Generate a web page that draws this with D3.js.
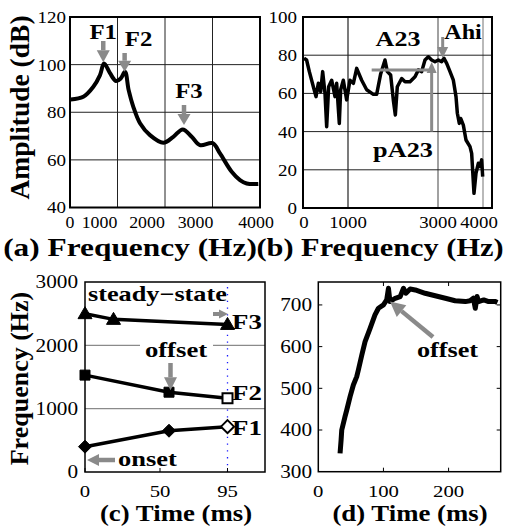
<!DOCTYPE html>
<html><head><meta charset="utf-8">
<script src="https://cdn.jsdelivr.net/npm/d3@7"></script>
<style>html,body{margin:0;padding:0;background:#fff;}svg{display:block;}</style>
</head><body>
<svg id="c" width="505" height="529"></svg>
<script>
// ---------- data ----------
const aFreq = [15,280,491,632,716,842,968,1067,1158,1235,1333,1474,1684,1965,2175,2372,2562,2737,3004,3158,3404,3579,3720,3964];
const aAmp  = [85.4,86.5,90.7,95.6,100.5,96.4,93.1,94.2,97,89.3,82.3,75.4,70.4,67.2,69.7,72.8,69.7,66.2,67,62.7,55,51.5,50.1,49.9];
const aXTicks = [0,1000,2000,3000,4000];
const aYTicks = [40,60,80,100,120];

const bFreq = [22,80,141,230,289,341,393,437,489,526,570,637,711,748,807,837,896,970,1044,1119,1193,1304,1415,1563,1637,1726,1822,1874,1948,2007,2052,2096,2193,2267,2378,2489,2563,2637,2711,2785,2859,2933,3007,3081,3133,3193,3267,3341,3400,3430,3474,3504,3563,3622,3711,3748,3800,3844,3896,3933,3970,3993];
const bAmp  = [78.4,77.5,71.4,63.5,58.3,65.3,60.9,71.4,60,42.6,63.5,66.9,58.3,65.3,44.3,61.9,66.9,56.6,66.9,65.3,73.1,66.9,61.9,59.5,59.5,70.2,77.5,71.4,69.6,56.6,48.7,63.5,67.8,66.1,66.1,68.7,72.3,71.4,77.5,79.2,77.5,76.6,77.5,76.6,78.4,75.7,71.4,66.9,58.3,49.6,44.3,46.9,43.4,35.6,32.1,28.6,7.7,18.2,23.4,21.7,25.2,16.4];
const bXTicks = [0,1000,3000,4000];
const bYTicks = [0,20,40,60,80,100];

const cF3Time = [0,19,95],  cF3 = [2500,2410,2330];
const cF2Time = [0,56,95],  cF2 = [1530,1260,1165];
const cF1Time = [0,56,95],  cF1 = [400,652,716];
const cXTicks = [0,50,95];
const cYTicks = [0,1000,2000,3000];

const dTime = [33.4,35,36,41,43.7,48.8,53.8,59,61.5,66.8,71.8,79.5,87,92.3,100,105,107.7,110,118,125.7,130.8,134.5,141,148.8,164,179.5,195,210,225.7,233,238,241,243.7,246,254,261.5,272,275];
const dFreq = [344,376,400,432,448,480,508,528,544,580,612,644,676,692,700,712,740,708,716,720,740,728,738,736,728,722,716,710,708,710,716,692,720,708,712,708,708,706];
const dXTicks = [0,100,200];
const dYTicks = [300,400,500,600,700];

// ---------- helpers ----------
const svg = d3.select('#c');
const FONT = '"Liberation Serif","Times New Roman",serif';
const GRAY = '#8a8a8a';
function txt(x, y, s, o) {
  o = o || {};
  const sx = o.sx || 1.22;
  let tr = `translate(${x},${y})`;
  if (o.rot) tr += ` rotate(-90) scale(1,${sx})`; else tr += ` scale(${sx},1)`;
  return svg.append('text').attr('transform', tr)
    .attr('text-anchor', o.anchor || 'start')
    .attr('dy', o.dy || 0)
    .style('font-family', FONT).style('font-size', (o.size || 16) + 'px')
    .style('font-weight', o.bold ? 'bold' : 'normal').attr('fill', o.fill || '#000')
    .text(s);
}
function arrow(x1, y1, x2, y2, hl, hw, sw) {
  const ang = Math.atan2(y2 - y1, x2 - x1);
  const bx = x2 - hl * Math.cos(ang), by = y2 - hl * Math.sin(ang);
  svg.append('line').attr('x1', x1).attr('y1', y1).attr('x2', bx).attr('y2', by)
    .attr('stroke', GRAY).attr('stroke-width', sw || 4);
  const px = -Math.sin(ang) * hw / 2, py = Math.cos(ang) * hw / 2;
  svg.append('path').attr('d', `M${x2},${y2}L${bx + px},${by + py}L${bx - px},${by - py}Z`).attr('fill', GRAY);
}
function zip(a, b) { return a.map((v, i) => [v, b[i]]); }

// ---------- panel (a) ----------
{
  const x = d3.scaleLinear().domain([0, 4000]).range([70, 260]);
  const y = d3.scaleLinear().domain([40, 120]).range([207.5, 17]);
  const g = svg.append('g');
  aXTicks.slice(1, -1).forEach(v => g.append('line').attr('x1', x(v)).attr('x2', x(v)).attr('y1', y(40)).attr('y2', y(120)).attr('stroke', '#222').attr('stroke-width', 1));
  aYTicks.slice(1, -1).forEach(v => g.append('line').attr('x1', x(0)).attr('x2', x(4000)).attr('y1', y(v)).attr('y2', y(v)).attr('stroke', '#222').attr('stroke-width', 1));
  g.append('rect').attr('x', x(0)).attr('y', y(120)).attr('width', x(4000) - x(0)).attr('height', y(40) - y(120)).attr('fill', 'none').attr('stroke', '#000').attr('stroke-width', 2);
  g.append('path').datum(zip(aFreq, aAmp)).attr('d', d3.line().x(d => x(d[0])).y(d => y(d[1])).curve(d3.curveCatmullRom))
    .attr('fill', 'none').attr('stroke', '#000').attr('stroke-width', 4).attr('stroke-linejoin', 'round');
  const lblDx = [0, -18, -18, -17, -4];
  aXTicks.forEach((v, i) => txt(x(v) + lblDx[i], 228, v, { anchor: 'middle', size: 16.5, sx: 1.08 }));
  aYTicks.forEach(v => txt(66, y(v), v, { anchor: 'end', size: 17, dy: '0.35em', sx: 1.12 }));
  txt(130, 256, '(a) Frequency (Hz)', { anchor: 'middle', size: 25.5, bold: true, sx: 1.23 });
  txt(29, 107.5, 'Amplitude (dB)', { anchor: 'middle', size: 27.5, bold: true, rot: true, sx: 1.0 });
  // annotations
  arrow(x(700), 41, x(700), y(101), 12, 13, 4.5);
  txt(x(700), 39, 'F1', { anchor: 'middle', size: 21, bold: true, sx: 1.18 });
  arrow(x(1150), 53, x(1150), y(97), 11, 13, 4.5);
  txt(x(1150) + 14, 46, 'F2', { anchor: 'middle', size: 21, bold: true, sx: 1.18 });
  arrow(x(2400), 105, x(2400), y(74.6), 11, 13, 4.5);
  txt(x(2400) + 5, 98, 'F3', { anchor: 'middle', size: 21, bold: true, sx: 1.18 });
}

// ---------- panel (b) ----------
{
  const x = d3.scaleLinear().domain([0, 4200]).range([303, 492]);
  const y = d3.scaleLinear().domain([0, 100]).range([208, 17]);
  const g = svg.append('g');
  bXTicks.slice(1).forEach(v => g.append('line').attr('x1', x(v)).attr('x2', x(v)).attr('y1', y(0)).attr('y2', y(100))
    .attr('stroke', v === 1000 ? '#222' : GRAY).attr('stroke-width', v === 3000 ? 1.6 : 1.2));
  bYTicks.slice(1, -1).forEach(v => g.append('line').attr('x1', x(0)).attr('x2', x(4200)).attr('y1', y(v)).attr('y2', y(v)).attr('stroke', '#222').attr('stroke-width', 1));
  g.append('rect').attr('x', x(0)).attr('y', y(100)).attr('width', x(4200) - x(0)).attr('height', y(0) - y(100)).attr('fill', 'none').attr('stroke', '#000').attr('stroke-width', 2);
  g.append('path').datum(zip(bFreq, bAmp)).attr('d', d3.line().x(d => x(d[0])).y(d => y(d[1])))
    .attr('fill', 'none').attr('stroke', '#000').attr('stroke-width', 3.5).attr('stroke-linejoin', 'round');
  const lblDx = [1, 0, 0, -4];
  bXTicks.forEach((v, i) => txt(x(v) + lblDx[i], 228, v, { anchor: 'middle', size: 16.5, sx: 1.14 }));
  bYTicks.forEach(v => txt(297, y(v), v, { anchor: 'end', size: 17, dy: '0.35em', sx: 1.12 }));
  txt(380, 256, '(b) Frequency (Hz)', { anchor: 'middle', size: 25.5, bold: true, sx: 1.19 });
  // annotations
  svg.append('line').attr('x1', x(1526)).attr('x2', x(2859)).attr('y1', y(72.3)).attr('y2', y(72.3)).attr('stroke', GRAY).attr('stroke-width', 3);
  arrow(x(2859), y(40), x(2859), y(76.5), 11, 10, 3);
  arrow(x(3104), 37, x(3104), y(78.5), 11, 11, 3);
  txt(398, 46, 'A23', { anchor: 'middle', size: 21, bold: true, sx: 1.24 });
  txt(463, 39, 'Ahi', { anchor: 'middle', size: 21, bold: true, sx: 1.15 });
  txt(403, 157, 'pA23', { anchor: 'middle', size: 21, bold: true, sx: 1.25 });
}

// ---------- panel (c) ----------
{
  const x = d3.scaleLinear().domain([0, 120]).range([85, 265]);
  const y = d3.scaleLinear().domain([0, 3000]).range([472, 282]);
  const g = svg.append('g');
  [1000, 2000].forEach(v => g.append('line').attr('x1', x(0)).attr('x2', x(120)).attr('y1', y(v)).attr('y2', y(v)).attr('stroke', GRAY).attr('stroke-width', 1.2));
  // white box behind "offset"
  g.append('rect').attr('x', 140).attr('y', y(2000) - 4).attr('width', 73).attr('height', 8).attr('fill', '#fff');
  g.append('line').attr('x1', x(95)).attr('x2', x(95)).attr('y1', y(0)).attr('y2', y(3000)).attr('stroke', '#1a1aff').attr('stroke-width', 1.3).attr('stroke-dasharray', '1.3,5.5');
  g.append('rect').attr('x', x(0)).attr('y', y(3000)).attr('width', x(120) - x(0)).attr('height', y(0) - y(3000)).attr('fill', 'none').attr('stroke', '#000').attr('stroke-width', 1.5);
  cXTicks.forEach(v => g.append('line').attr('x1', x(v)).attr('x2', x(v)).attr('y1', y(0)).attr('y2', y(0) - 4).attr('stroke', '#000'));
  const line = d3.line().x(d => x(d[0])).y(d => y(d[1]));
  const series = [[cF3Time, cF3, 'tri'], [cF2Time, cF2, 'sq'], [cF1Time, cF1, 'dia']];
  series.forEach(([t, f]) => g.append('path').datum(zip(t, f)).attr('d', line).attr('fill', 'none').attr('stroke', '#000').attr('stroke-width', 3.5));
  series.forEach(([t, f, m]) => {
    zip(t, f).forEach((d, i) => {
      const px = x(d[0]), py = y(d[1]);
      const hollow = (m !== 'tri') && i === t.length - 1;
      let path;
      if (m === 'tri') path = `M${px},${py - 7}L${px + 7},${py + 5}L${px - 7},${py + 5}Z`;
      else if (m === 'sq') path = `M${px - 5},${py - 5}h10v10h-10Z`;
      else path = `M${px},${py - 6.5}L${px + 6.5},${py}L${px},${py + 6.5}L${px - 6.5},${py}Z`;
      g.append('path').attr('d', path).attr('fill', hollow ? '#fff' : '#000').attr('stroke', '#000').attr('stroke-width', hollow ? 2 : 1);
    });
  });
  cXTicks.forEach(v => txt(x(v), 497, v, { anchor: 'middle', size: 17, sx: 1.22 }));
  cYTicks.forEach(v => txt(78, y(v), v, { anchor: 'end', size: 18, dy: '0.35em', sx: 1.18 }));
  txt(176, 521, '(c) Time (ms)', { anchor: 'middle', size: 22.5, bold: true, sx: 1.19 });
  txt(28, 378.5, 'Frequency (Hz)', { anchor: 'middle', size: 26, bold: true, rot: true, sx: 1.0 });
  txt(88, 301, 'steady\u2212state', { size: 21, bold: true, sx: 1.25 });
  txt(176, 357, 'offset', { anchor: 'middle', size: 21, bold: true, sx: 1.27 });
  txt(118, 466, 'onset', { size: 21, bold: true, sx: 1.26 });
  txt(232, 329, 'F3', { size: 21, bold: true, sx: 1.28 });
  txt(232, 400, 'F2', { size: 21, bold: true, sx: 1.28 });
  txt(232, 435, 'F1', { size: 21, bold: true, sx: 1.28 });
  arrow(213, 314, 228, 314, 9, 9, 4);
  arrow(x(57), 363, x(57), y(1290), 13, 13, 4.5);
  arrow(115, 460, 87, 460, 12, 12, 4.5);
}

// ---------- panel (d) ----------
{
  const x = d3.scaleLinear().domain([0, 280]).range([318.3, 500.7]);
  const y = d3.scaleLinear().domain([300, 755]).range([471.7, 282]);
  const g = svg.append('g');
  g.append('rect').attr('x', x(0)).attr('y', y(755)).attr('width', x(280) - x(0)).attr('height', y(300) - y(755)).attr('fill', 'none').attr('stroke', '#000').attr('stroke-width', 1.5);
  dXTicks.slice(1).forEach(v => {
    g.append('line').attr('x1', x(v)).attr('x2', x(v)).attr('y1', y(300)).attr('y2', y(300) - 4).attr('stroke', '#000');
    g.append('line').attr('x1', x(v)).attr('x2', x(v)).attr('y1', y(755)).attr('y2', y(755) + 4).attr('stroke', '#000');
  });
  dYTicks.slice(1).forEach(v => {
    g.append('line').attr('x1', x(0)).attr('x2', x(0) + 4).attr('y1', y(v)).attr('y2', y(v)).attr('stroke', '#000');
    g.append('line').attr('x1', x(280)).attr('x2', x(280) - 4).attr('y1', y(v)).attr('y2', y(v)).attr('stroke', '#000');
  });
  g.append('path').datum(zip(dTime, dFreq)).attr('d', d3.line().x(d => x(d[0])).y(d => y(d[1])))
    .attr('fill', 'none').attr('stroke', '#000').attr('stroke-width', 5).attr('stroke-linejoin', 'round');
  dXTicks.forEach(v => txt(x(v), 497, v, { anchor: 'middle', size: 17, sx: 1.22 }));
  dYTicks.forEach(v => txt(312, y(v), v, { anchor: 'end', size: 18, dy: '0.35em', sx: 1.18 }));
  txt(410, 521, '(d) Time (ms)', { anchor: 'middle', size: 22.5, bold: true, sx: 1.19 });
  arrow(433, 337, x(110), y(708), 15, 15, 4.5);
  txt(447.5, 357, 'offset', { anchor: 'middle', size: 21, bold: true, sx: 1.25 });
}
</script>
</body></html>
